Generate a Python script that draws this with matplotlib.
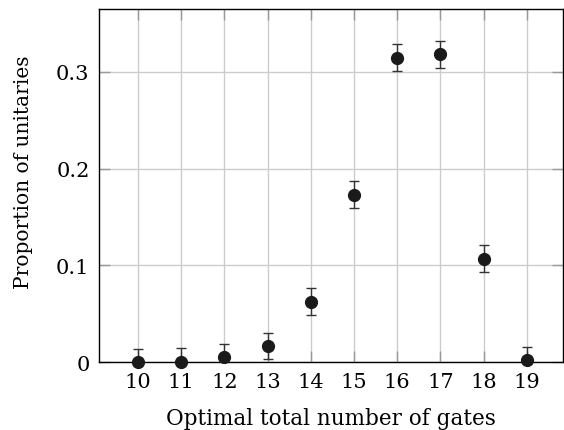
import matplotlib
matplotlib.use('Agg')
import matplotlib.pyplot as plt

gates = [10, 11, 12, 13, 14, 15, 16, 17, 18, 19]
proportion = [0.0, 0.0005, 0.005, 0.0168, 0.0625, 0.1729, 0.3145, 0.3179, 0.107, 0.0027]
error = [0.0140, 0.0140, 0.0136, 0.0134, 0.0138, 0.0140, 0.0138, 0.0138, 0.0138, 0.0134]
yticks = [0, 0.1, 0.2, 0.3]
yticklabels = ['0', '0.1', '0.2', '0.3']

plt.rcParams['font.family'] = ['DejaVu Serif']

fig = plt.figure(figsize=(5.64, 4.31), dpi=100)
ax = fig.add_axes([0.176, 0.157, 0.823, 0.820])

# error bars are clipped at the axis, the markers are not
ax.errorbar(gates, proportion, yerr=error, fmt='none',
            ecolor='#333333', elinewidth=1.0, capsize=3.6, capthick=1.0,
            zorder=3)
ax.plot(gates, proportion, 'o', color='#1a1a1a', markersize=8.5,
        clip_on=False, zorder=4)

ax.set_xlim(9.1, 19.85)
ax.set_ylim(0, 0.3647)
ax.set_xticks(gates)
ax.set_yticks(yticks)
ax.set_yticklabels(yticklabels)

ax.grid(True, color='#cccccc', linewidth=1.0)
ax.set_axisbelow(True)
ax.tick_params(direction='in', length=8, color='#999999', width=1,
               top=True, right=True, labelsize=15, pad=7)
for s in ax.spines.values():
    s.set_linewidth(1.0)

ax.set_xlabel('Optimal total number of gates', fontsize=15.5)
ax.set_ylabel('Proportion of unitaries', fontsize=14.5)
ax.xaxis.set_label_coords(0.5, -0.125)
ax.yaxis.set_label_coords(-0.143, 0.54)

fig.savefig('out.png', dpi=100)
